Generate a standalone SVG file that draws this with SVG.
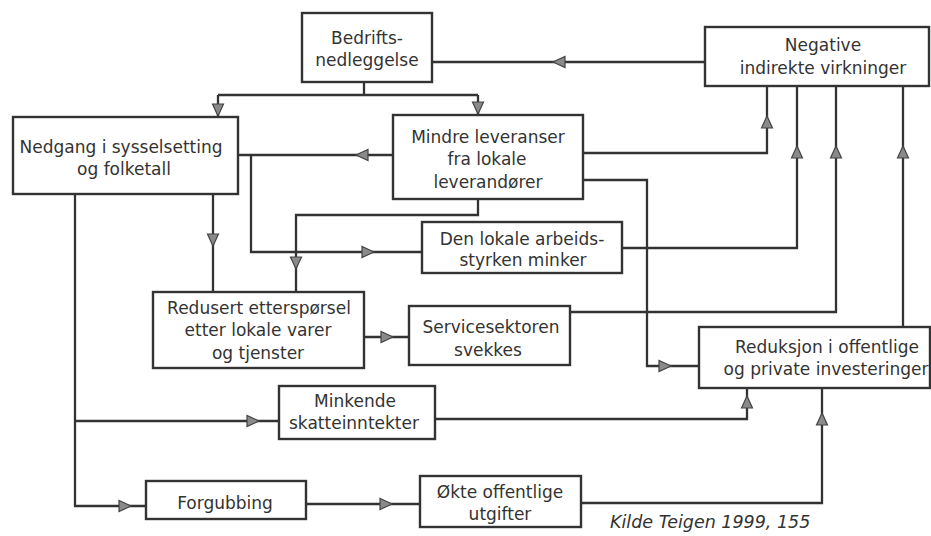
<svg xmlns="http://www.w3.org/2000/svg" xmlns:xlink="http://www.w3.org/1999/xlink" width="931" height="536" viewBox="0 0 931 536">
<style>
.box{fill:#fff;stroke:#333;stroke-width:2.4}
.t{font-family:"DejaVu Sans","Noto Sans",sans-serif;font-size:17px;fill:#333;text-anchor:middle}
.cap{font-family:"DejaVu Sans","Noto Sans",sans-serif;font-size:17.5px;font-style:italic;fill:#333}
.ln{fill:none;stroke:#333;stroke-width:2.3}
.ah{fill:#8a8a8a;stroke:#444;stroke-width:1.2;stroke-linejoin:miter}
</style>
<defs>
<path id="tri" class="ah" d="M0,0 L-12,-5.5 L-12,5.5 Z"/>
</defs>
<rect width="931" height="536" fill="#fff"/>
<g id="connectors">
<path class="ln" d="M364,82 V95 M218,95 H478 M218,95 V116 M478,95 V114"/>
<path class="ln" d="M705,62 H432"/>
<path class="ln" d="M393,155 H238 M251,155 V252 H422"/>
<path class="ln" d="M478,199 V215 H296 V292"/>
<path class="ln" d="M213,194 V292"/>
<path class="ln" d="M75,194 V506 H146 M75,421 H279"/>
<path class="ln" d="M364,337 H409"/>
<path class="ln" d="M306,504 H420"/>
<path class="ln" d="M581,503 H822 V388"/>
<path class="ln" d="M435,419 H747 V388"/>
<path class="ln" d="M583,153 H767 V86"/>
<path class="ln" d="M583,180 H647 V366 H699"/>
<path class="ln" d="M622,248 H797 V86"/>
<path class="ln" d="M570,312 H836 V86"/>
<path class="ln" d="M903,327 V86"/>
<use xlink:href="#tri" transform="translate(218,116) rotate(90)"/>
<use xlink:href="#tri" transform="translate(478,114) rotate(90)"/>
<use xlink:href="#tri" transform="translate(553,62) rotate(180)"/>
<use xlink:href="#tri" transform="translate(356,155) rotate(180)"/>
<use xlink:href="#tri" transform="translate(374,252)"/>
<use xlink:href="#tri" transform="translate(296,269) rotate(90)"/>
<use xlink:href="#tri" transform="translate(213,246) rotate(90)"/>
<use xlink:href="#tri" transform="translate(393,337)"/>
<use xlink:href="#tri" transform="translate(767,116) rotate(-90)"/>
<use xlink:href="#tri" transform="translate(797,146) rotate(-90)"/>
<use xlink:href="#tri" transform="translate(836,146) rotate(-90)"/>
<use xlink:href="#tri" transform="translate(903,146) rotate(-90)"/>
<use xlink:href="#tri" transform="translate(671,366)"/>
<use xlink:href="#tri" transform="translate(259,421)"/>
<use xlink:href="#tri" transform="translate(131,506)"/>
<use xlink:href="#tri" transform="translate(392,504)"/>
<use xlink:href="#tri" transform="translate(747,396) rotate(-90)"/>
<use xlink:href="#tri" transform="translate(822,413) rotate(-90)"/>
</g>
<g id="bedrifts">
<rect class="box" x="302" y="13" width="130" height="69"/>
<text class="t" x="367" y="44">Bedrifts-</text>
<text class="t" x="367" y="66">nedleggelse</text>
</g>
<g id="negative">
<rect class="box" x="705" y="27" width="224" height="59"/>
<text class="t" x="823" y="51">Negative</text>
<text class="t" x="823" y="74">indirekte virkninger</text>
</g>
<g id="nedgang">
<rect class="box" x="13" y="117" width="225" height="77"/>
<text class="t" x="121" y="153">Nedgang i sysselsetting</text>
<text class="t" x="124" y="175">og folketall</text>
</g>
<g id="mindre">
<rect class="box" x="393" y="115" width="190" height="84"/>
<text class="t" x="488" y="143">Mindre leveranser</text>
<text class="t" x="487" y="165">fra lokale</text>
<text class="t" x="488" y="188">leverandører</text>
</g>
<g id="arbeidsstyrken">
<rect class="box" x="422" y="222" width="200" height="51"/>
<text class="t" x="522" y="245">Den lokale arbeids-</text>
<text class="t" x="523" y="266">styrken minker</text>
</g>
<g id="redusert">
<rect class="box" x="153" y="292" width="211" height="76"/>
<text class="t" x="259" y="314">Redusert etterspørsel</text>
<text class="t" x="258" y="336">etter lokale varer</text>
<text class="t" x="258" y="359">og tjenster</text>
</g>
<g id="service">
<rect class="box" x="409" y="306" width="161" height="59"/>
<text class="t" x="491" y="333">Servicesektoren</text>
<text class="t" x="488" y="356">svekkes</text>
</g>
<g id="reduksjon">
<rect class="box" x="699" y="327" width="231" height="61"/>
<text class="t" x="827" y="353">Reduksjon i offentlige</text>
<text class="t" x="826" y="375">og private investeringer</text>
</g>
<g id="minkende">
<rect class="box" x="279" y="386" width="156" height="53"/>
<text class="t" x="355" y="407">Minkende</text>
<text class="t" x="354" y="429">skatteinntekter</text>
</g>
<g id="forgubbing">
<rect class="box" x="146" y="481" width="160" height="38"/>
<text class="t" x="225" y="509">Forgubbing</text>
</g>
<g id="okte">
<rect class="box" x="420" y="476" width="161" height="51"/>
<text class="t" x="500" y="498">Økte offentlige</text>
<text class="t" x="500" y="520">utgifter</text>
</g>
<text class="cap" x="610" y="528">Kilde Teigen 1999, 155</text>
</svg>
